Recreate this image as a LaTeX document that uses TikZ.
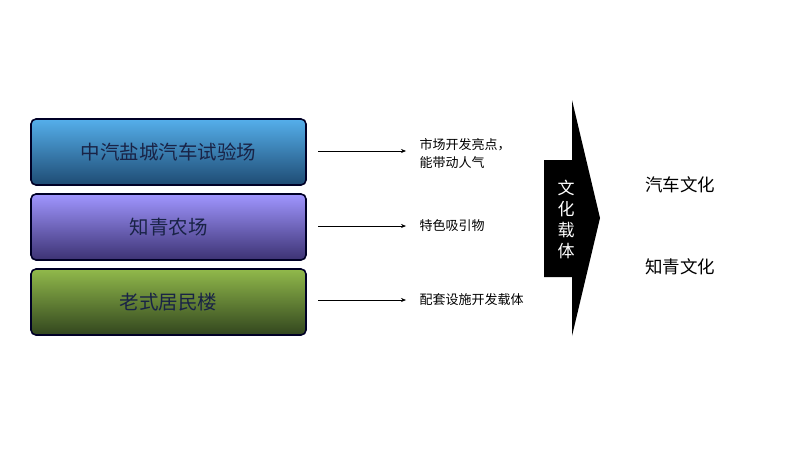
\documentclass[tikz,border=0pt]{standalone}
\usepackage{fontspec}
\newfontfamily\cjk{Noto Sans CJK SC}
\usetikzlibrary{arrows.meta}
\definecolor{txt}{RGB}{25,35,70}
\tikzset{
 box/.style={draw=black!85!blue,line width=1.6pt,rounded corners=5pt,minimum width=275pt,minimum height=66pt,font=\cjk\fontsize{19.5}{22}\selectfont,text=txt},
 lab/.style={anchor=west,font=\cjk\fontsize{13}{18}\selectfont,align=left},
 arr/.style={-{Stealth[length=5pt,width=4pt]},line width=0.6pt},
}
\begin{document}
\begin{tikzpicture}[x=1pt,y=-1pt]
\useasboundingbox (0,0) rectangle (800,450);
\node[box,top color={rgb,255:red,85;green,175;blue,235},bottom color={rgb,255:red,30;green,75;blue,115}] (b1) at (168.5,152) {中汽盐城汽车试验场};
\node[box,top color={rgb,255:red,160;green,150;blue,255},bottom color={rgb,255:red,60;green,50;blue,115}] (b2) at (168.5,227) {知青农场};
\node[box,top color={rgb,255:red,145;green,185;blue,75},bottom color={rgb,255:red,50;green,70;blue,30}] (b3) at (168.5,302) {老式居民楼};
\coordinate (a1) at (318,151); \coordinate (e1) at (406,151);
\coordinate (a2) at (318,226); \coordinate (e2) at (406,226);
\coordinate (a3) at (318,300); \coordinate (e3) at (406,300);
\draw[arr] (a1) -- (e1); \draw[arr] (a2) -- (e2); \draw[arr] (a3) -- (e3);
\node[lab] (l1) at (416,154) {市场开发亮点，\\能带动人气};
\node[lab] (l2) at (416,226) {特色吸引物};
\node[lab] (l3) at (416,300) {配套设施开发载体};
\fill[black] (544,160) -- (572,160) -- (572,100) -- (600,218) -- (572,336) -- (572,277) -- (544,277) -- cycle;
\node[text=white,font=\cjk\fontsize{17}{21}\selectfont,align=center] (v) at (566,219) {文\\化\\载\\体};
\node[font=\cjk\fontsize{17.5}{20}\selectfont] (r1) at (680,185) {汽车文化};
\node[font=\cjk\fontsize{17.5}{20}\selectfont] (r2) at (680,267) {知青文化};
\end{tikzpicture}
\end{document}
